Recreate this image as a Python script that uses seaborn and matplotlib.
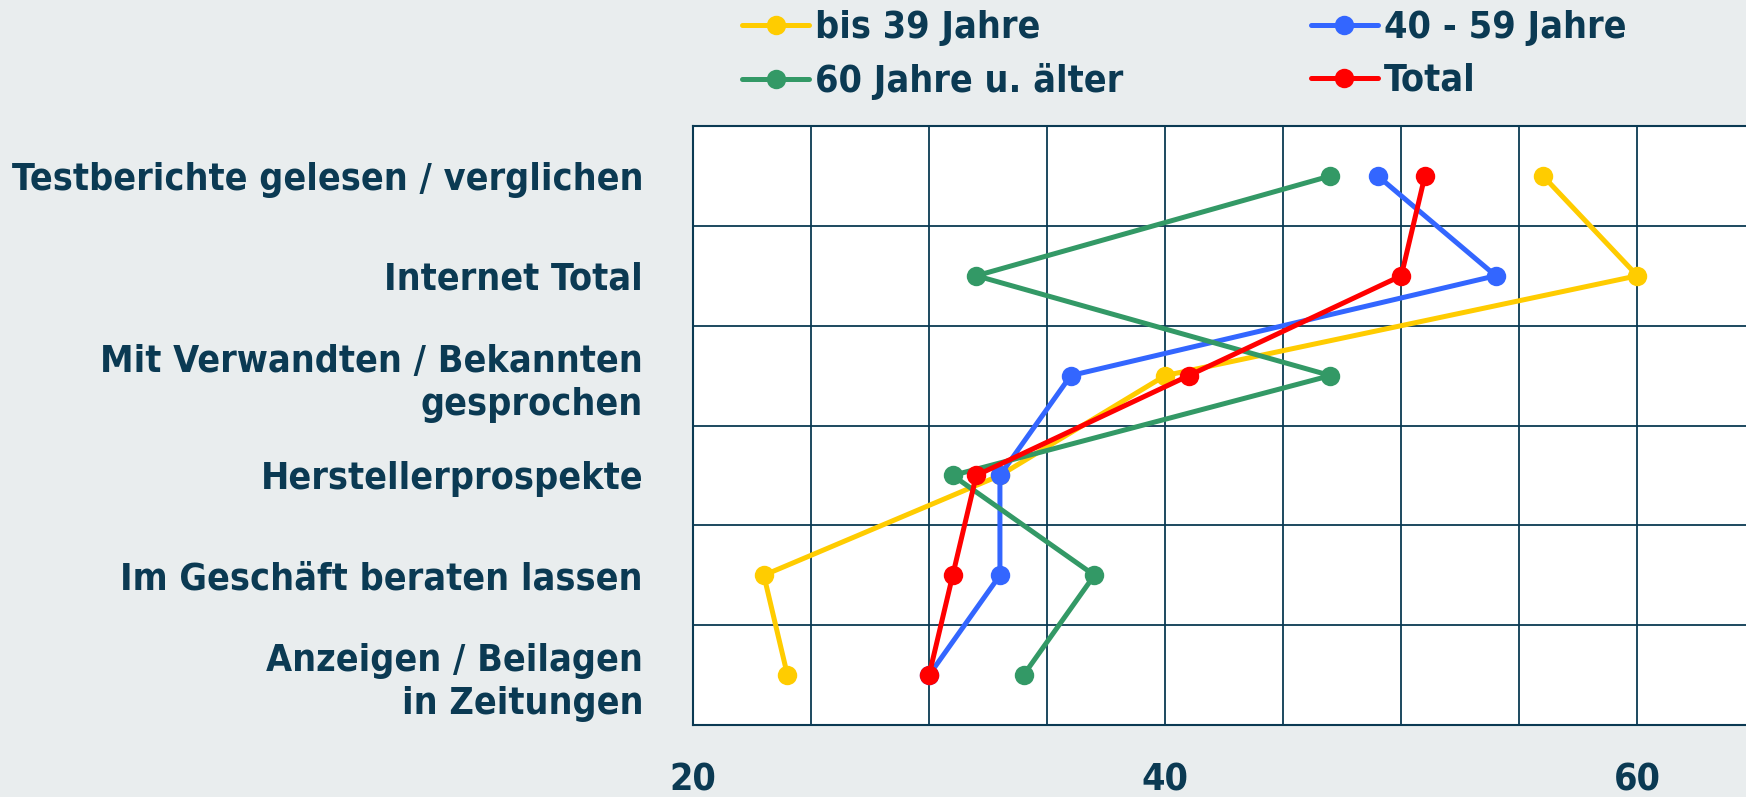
import pandas as pd
import matplotlib.pyplot as plt
import seaborn as sns
import numpy as np

# categories top to bottom
categories = [
    "Testberichte gelesen / verglichen",
    "Internet Total",
    "Mit Verwandten / Bekannten\ngesprochen",
    "Herstellerprospekte",
    "Im Geschäft beraten lassen",
    "Anzeigen / Beilagen\nin Zeitungen",
]
bis_39 = [56, 60, 40, 33, 23, 24]
j40_59 = [49, 54, 36, 33, 33, 30]
j60_plus = [47, 32, 47, 31, 37, 34]
total = [51, 50, 41, 32, 31, 30]

groups = ["bis 39 Jahre", "40 - 59 Jahre", "60 Jahre u. älter", "Total"]
colors = ["#FFCC00", "#3366FF", "#339966", "#FF0000"]

rows = []
for g, vals in zip(groups, [bis_39, j40_59, j60_plus, total]):
    for i, v in enumerate(vals):
        rows.append({"group": g, "pos": i, "value": v})
df = pd.DataFrame(rows)

BG = "#E9EDEE"
INK = "#0B3A53"

sns.set_style("white")
plt.rcParams["font.family"] = ["DejaVu Sans"]
plt.rcParams["font.weight"] = "bold"
plt.rcParams["font.stretch"] = "condensed"

fig = plt.figure(figsize=(17.46, 7.97), dpi=100, facecolor=BG)
ax = fig.add_axes([693 / 1746, 1 - 725 / 797, 1 - 693 / 1746, (725 - 126) / 797])
ax.set_facecolor("white")

# lines run from category to category (vertical order), so orient on y
sns.lineplot(data=df, x="value", y="pos", hue="group", hue_order=groups,
             palette=colors, estimator=None, sort=False, orient="y",
             marker="o", markersize=14, markeredgewidth=0, linewidth=3.6,
             ax=ax)

ax.set_xlim(20, 64.6)
ax.set_ylim(5.5, -0.5)
ax.set_xticks([20, 40, 60])
ax.set_xticks(np.arange(25, 65, 5), minor=True)
ax.set_yticks(range(len(categories)))
ax.set_yticklabels(categories, ha="right", linespacing=1.25)
ax.set_yticks(np.arange(-0.5, 6, 1), minor=True)
ax.grid(False)
ax.grid(True, axis="x", which="both", color=INK, linewidth=1.3)
ax.grid(True, axis="y", which="minor", color=INK, linewidth=1.3)
ax.set_axisbelow(True)
ax.tick_params(which="both", length=0)
ax.tick_params(axis="y", which="major", pad=36, labelsize=27, labelcolor=INK)
ax.tick_params(axis="x", which="major", pad=27, labelsize=27, labelcolor=INK)
for lab in ax.get_xticklabels() + ax.get_yticklabels():
    lab.set_fontweight("bold")
for s in ax.spines.values():
    s.set_color(INK)
    s.set_linewidth(1.5)
ax.spines["right"].set_visible(False)
ax.set_xlabel("")
ax.set_ylabel("")

handles, labels = ax.get_legend_handles_labels()
ax.get_legend().remove()
order = [0, 2, 1, 3]  # fill legend row by row
leg = fig.legend([handles[i] for i in order], [labels[i] for i in order],
                 ncol=2, loc="upper left", bbox_to_anchor=(708 / 1746, 1.03),
                 frameon=False, fontsize=27, handlelength=1.8,
                 handletextpad=0.15, columnspacing=5.0, labelspacing=0.45)
for t in leg.get_texts():
    t.set_color(INK)
    t.set_fontweight("bold")

fig.savefig("out.png", dpi=100, facecolor=BG)
